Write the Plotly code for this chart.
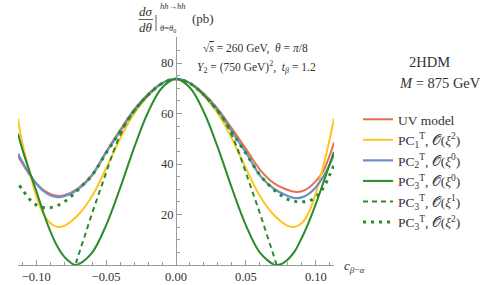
import plotly.graph_objects as go

# ---------------- data ----------------
x_uv = [-0.113, -0.11, -0.105, -0.10, -0.095, -0.09, -0.085, -0.08, -0.07, -0.06, -0.05, -0.04,
        -0.03, -0.02, -0.01, 0.0, 0.01, 0.02, 0.03, 0.04, 0.05, 0.06, 0.07, 0.08, 0.085, 0.09,
        0.095, 0.10, 0.105, 0.11, 0.113]
y_uv = [43.0, 40.3, 36.0, 32.4, 29.8, 28.2, 27.4, 27.6, 30.4, 35.8, 44.8, 53.4,
        61.5, 67.6, 72.0, 73.7, 72.1, 67.8, 61.7, 54.0, 46.0, 37.8, 32.4, 29.7, 29.0, 29.2,
        30.6, 33.2, 36.8, 43.5, 48.5]

x_pc1 = [-0.113, -0.11, -0.105, -0.10, -0.095, -0.09, -0.085, -0.08, -0.07, -0.06, -0.05, -0.04,
         -0.03, -0.02, -0.01, 0.0, 0.01, 0.02, 0.03, 0.04, 0.05, 0.06, 0.07, 0.08, 0.085, 0.09,
         0.095, 0.10, 0.105, 0.11, 0.113]
y_pc1 = [58.0, 48.5, 37.5, 27.5, 20.5, 16.6, 15.1, 15.5, 19.8, 27.3, 38.3, 50.0,
         60.0, 67.0, 71.8, 73.7, 71.8, 67.0, 60.0, 50.0, 38.3, 27.3, 19.8, 15.5, 15.1, 16.6,
         20.8, 28.5, 38.5, 50.0, 58.0]

x_pc2 = [-0.113, -0.11, -0.105, -0.10, -0.095, -0.09, -0.085, -0.08, -0.07, -0.06, -0.05, -0.04,
         -0.03, -0.02, -0.01, 0.0, 0.01, 0.02, 0.03, 0.04, 0.05, 0.06, 0.07, 0.08, 0.085, 0.09,
         0.095, 0.10, 0.105, 0.11, 0.113]
y_pc2 = [44.2, 41.0, 36.3, 32.3, 29.4, 27.6, 26.9, 27.2, 30.0, 35.5, 44.6, 52.8,
         61.3, 67.5, 72.0, 73.7, 72.0, 67.5, 61.3, 52.8, 44.6, 35.5, 30.2, 27.3, 26.5, 26.8,
         28.2, 30.8, 34.6, 39.8, 44.0]

x_pc3_0 = [-0.113, -0.11, -0.105, -0.10, -0.095, -0.09, -0.085, -0.08, -0.075, -0.072, -0.07,
           -0.06, -0.05, -0.04, -0.03, -0.02, -0.01, 0.0, 0.01, 0.02, 0.03, 0.04, 0.05, 0.06,
           0.07, 0.072, 0.075, 0.08, 0.085, 0.09, 0.095, 0.10, 0.105, 0.11, 0.113]
y_pc3_0 = [52.0, 46.0, 37.5, 29.5, 21.0, 13.5, 7.5, 3.3, 0.8, 0.0, 0.2,
           4.9, 15.7, 30.4, 46.4, 60.5, 70.2, 73.7, 70.2, 60.5, 46.4, 30.4, 15.7, 4.9,
           0.15, 0.0, 0.3, 2.2, 5.5, 10.8, 17.0, 24.2, 32.0, 40.1, 44.8]

x_pc3_1 = [-0.076, -0.072, -0.07, -0.065, -0.06, -0.055, -0.05, -0.045, -0.04, -0.035, -0.03,
           -0.02, -0.01, 0.0, 0.01, 0.02, 0.03, 0.035, 0.04, 0.045, 0.05, 0.055, 0.06, 0.065,
           0.07, 0.072, 0.076]
y_pc3_1 = [-6.0, 0.0, 3.5, 12.0, 20.5, 28.5, 36.5, 44.5, 51.3, 56.8, 60.8,
           67.2, 71.9, 73.7, 71.9, 67.2, 60.8, 56.8, 51.3, 44.5, 36.5, 28.5, 20.5, 12.0,
           3.5, 0.0, -6.0]

x_pc3_2 = [-0.112, -0.11, -0.105, -0.10, -0.095, -0.09, -0.085, -0.08, -0.075, -0.07, -0.065,
           -0.06, -0.05, -0.04, -0.03, -0.02, -0.01, 0.0, 0.01, 0.02, 0.03, 0.04, 0.05, 0.06,
           0.065, 0.07, 0.075, 0.08, 0.085, 0.09, 0.095, 0.10, 0.105, 0.11, 0.113]
y_pc3_2 = [31.5, 30.0, 26.2, 23.8, 22.8, 22.7, 23.5, 25.0, 27.2, 29.8, 32.6,
           35.5, 44.3, 52.8, 61.0, 67.3, 71.9, 73.7, 71.9, 67.3, 61.0, 52.6, 44.2, 35.6,
           32.5, 29.8, 27.6, 26.0, 25.2, 25.0, 25.3, 26.9, 30.2, 35.8, 39.5]

x_ticks = [-0.10, -0.05, 0.0, 0.05, 0.10]
y_ticks = [20, 40, 60, 80]

names = ["UV model",
         "PC<sub>1</sub><sup>T</sup>, 𝒪(<i>ξ</i><sup>2</sup>)",
         "PC<sub>2</sub><sup>T</sup>, 𝒪(<i>ξ</i><sup>0</sup>)",
         "PC<sub>3</sub><sup>T</sup>, 𝒪(<i>ξ</i><sup>0</sup>)",
         "PC<sub>3</sub><sup>T</sup>, 𝒪(<i>ξ</i><sup>1</sup>)",
         "PC<sub>3</sub><sup>T</sup>, 𝒪(<i>ξ</i><sup>2</sup>)"]

# ---------------- styles ----------------
RED = "#E5714F"
YEL = "#FFC51F"
BLU = "#6C8FCB"
GRN = "#2A8B2A"
SERIF = "Liberation Serif, DejaVu Serif, serif"
AX = "#9a9a9a"
TXT = "#333333"

W, H = 482, 285
L, R, T, B = 18, 148, 37, 20


def px(X):
    return (X - L) / (W - L - R)


def py(Y):
    return (H - B - Y) / (H - T - B)


fig = go.Figure()
series = [
    (x_uv, y_uv, RED, 2.0, "solid"),
    (x_pc1, y_pc1, YEL, 2.0, "solid"),
    (x_pc2, y_pc2, BLU, 2.2, "solid"),
    (x_pc3_0, y_pc3_0, GRN, 2.0, "solid"),
    (x_pc3_1, y_pc3_1, GRN, 2.0, "5px,4px"),
    (x_pc3_2, y_pc3_2, GRN, 3.0, "3px,5px"),
]
for i, (xs, ys, c, w, d) in enumerate(series):
    fig.add_trace(go.Scatter(
        x=xs, y=ys, mode="lines", name=names[i], legendgroup=f"g{i}",
        line=dict(color=c, width=w, dash=d, shape="spline", smoothing=1.0),
        hoverinfo="skip"))

fig.update_layout(
    width=W, height=H,
    margin=dict(l=L, r=R, t=T, b=B, pad=0, autoexpand=False),
    paper_bgcolor="white", plot_bgcolor="white",
    font=dict(family=SERIF, size=13, color=TXT),
    showlegend=True,
    legend=dict(xref="container", yref="container",
                x=358 / W, y=1 - 104 / H, xanchor="left", yanchor="top",
                font=dict(family=SERIF, size=13.5, color=TXT),
                tracegroupgap=0, bgcolor="rgba(0,0,0,0)", borderwidth=0),
    xaxis=dict(range=[-0.113, 0.113], showgrid=False, zeroline=False, automargin=False,
               showline=True, linecolor=AX, linewidth=1,
               ticks="inside", ticklen=5, tickcolor=AX, tickwidth=1,
               tickvals=x_ticks, tickformat=".2f",
               tickfont=dict(family=SERIF, size=12.5, color=TXT),
               minor=dict(ticks="inside", dtick=0.01, tick0=0, ticklen=3,
                          tickcolor=AX, tickwidth=1)),
    yaxis=dict(range=[0, 90.3], showgrid=False, zeroline=False, automargin=False,
               anchor="free", position=0.5, side="left",
               showline=True, linecolor=AX, linewidth=1,
               ticks="inside", ticklen=5, tickcolor=AX, tickwidth=1,
               tickvals=y_ticks,
               tickfont=dict(family=SERIF, size=12.5, color=TXT),
               minor=dict(ticks="inside", dtick=5, tick0=0, ticklen=3,
                          tickcolor=AX, tickwidth=1)),
)

ann = []


def text(X, Y, s, size=13, xanchor="center"):
    ann.append(dict(x=px(X), y=py(Y), xref="paper", yref="paper", text=s,
                    showarrow=False, xanchor=xanchor, yanchor="middle",
                    font=dict(family=SERIF, size=size, color=TXT)))


# y-axis title  dσ/dθ |_{θ=θ0}^{hh→hh} (pb)
text(145.5, 11, "<i>dσ</i>", 13)
text(145.5, 28, "<i>dθ</i>", 13)
text(158, 6, "<i>hh</i>→<i>hh</i>", 8.5, "left")
text(158, 28.5, "<i>θ</i>=<i>θ</i><sub>0</sub>", 8.5, "left")
text(190, 18, "(pb)", 13, "left")

# parameter text
text(255, 48, "√<span style='text-decoration:overline'><i>s</i></span> = 260 GeV,  <i>θ</i> = <i>π</i>/8", 11.5)
text(256, 66.5, "<i>Y</i><sub>2</sub> = (750 GeV)<sup>2</sup>,  <i>t<sub>β</sub></i> = 1.2", 11.5)
text(429, 62, "2HDM", 14.5)
text(440, 83, "<i>M</i> = 875 GeV", 14.5)

# x-axis label
text(342, 266, "<i>c</i><sub><i>β</i>−<i>α</i></sub>", 13, "left")

fig.update_layout(annotations=ann)

fig.add_shape(type="line", xref="paper", yref="paper",
              x0=px(138.5), x1=px(153), y0=py(19.5), y1=py(19.5),
              line=dict(color=TXT, width=0.8))
fig.add_shape(type="line", xref="paper", yref="paper",
              x0=px(156), x1=px(156), y0=py(15), y1=py(31),
              line=dict(color=TXT, width=0.8))

fig.write_html("out.html",
               config={"displayModeBar": False, "staticPlot": True},
               post_script="document.body.style.margin='0';document.body.style.overflow='hidden';")
